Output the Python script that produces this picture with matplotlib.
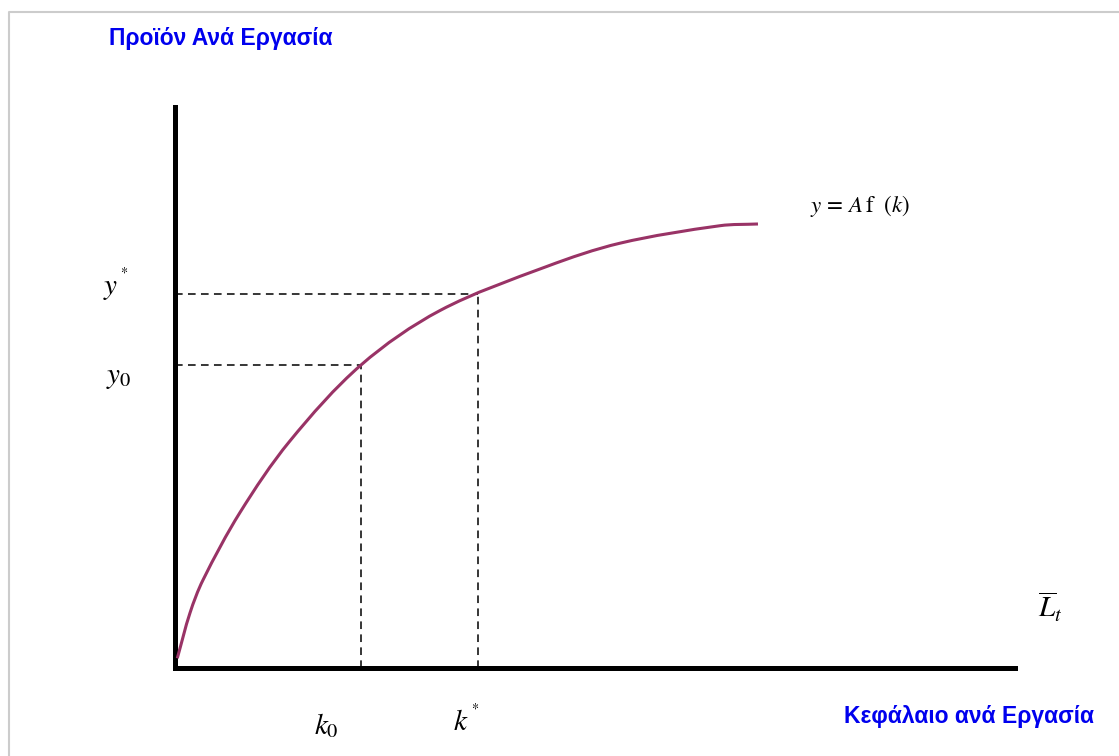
import matplotlib
matplotlib.use("Agg")
import matplotlib.pyplot as plt
import matplotlib.patches as mpatches
from matplotlib.path import Path
from matplotlib.lines import Line2D
import numpy as np

# production function curve (capital per worker, output per worker)
k_vals = [0.033, 0.184, 0.339, 0.779, 1.368, 2.219, 3.159, 4.428, 5.300, 6.490, 6.942]
y_vals = [0.164, 0.972, 1.561, 2.765, 4.032, 5.397, 6.369, 7.154, 7.570, 7.882, 7.913]

# marked points
k0, y0 = 2.22, 5.40
k_star, y_star = 3.61, 6.66

y_axis_title = "Προϊόν Ανά Εργασία"
x_axis_title = "Κεφάλαιο ανά Εργασία"
curve_label = r"$y\,=\,A\,\mathrm{f}\ \ (k)$"

plt.rcParams["mathtext.fontset"] = "stix"

W, H = 1119, 756
fig = plt.figure(figsize=(W / 100, H / 100), dpi=100)

def fx(px):
    return px / W

def fy(py):
    return 1 - py / H

def smooth_path(xs, ys):
    # chord-length Catmull-Rom through the read points, as cubic Bezier segments
    # (x scaled so spacing roughly follows the drawn aspect)
    pts = np.column_stack([np.asarray(xs) * 1.5, ys])
    seg = np.linalg.norm(np.diff(pts, axis=0), axis=1)
    t = np.concatenate([[0], np.cumsum(seg)])
    n = len(pts)
    tang = np.zeros_like(pts)
    for i in range(n):
        a, b = max(i - 1, 0), min(i + 1, n - 1)
        tang[i] = (pts[b] - pts[a]) / (t[b] - t[a])
    verts = [pts[0]]
    codes = [Path.MOVETO]
    for i in range(n - 1):
        h = t[i + 1] - t[i]
        verts += [pts[i] + tang[i] * h / 3, pts[i + 1] - tang[i + 1] * h / 3, pts[i + 1]]
        codes += [Path.CURVE4] * 3
    verts = np.array(verts)
    verts[:, 0] /= 1.5
    return Path(verts, codes)

# light grey frame (top and left edges)
fig.add_artist(Line2D([fx(9), fx(9), 1.0], [0.0, fy(12), fy(12)],
                      color="#cccccc", lw=1.5, transform=fig.transFigure))

ax = fig.add_axes([fx(174.5), fy(667.5), (1015 - 174.5) / W, (667.5 - 107) / H])
ax.set_xlim(0, 10)
ax.set_ylim(0, 10)
ax.set_xticks([])
ax.set_yticks([])
for side in ["top", "right"]:
    ax.spines[side].set_visible(False)
for side in ["left", "bottom"]:
    ax.spines[side].set_linewidth(3.6)
    ax.spines[side].set_color("black")

curve = mpatches.PathPatch(smooth_path(k_vals, y_vals), facecolor="none",
                           edgecolor="#993366", lw=2.2, capstyle="butt", zorder=3)
ax.add_patch(curve)

dash = (0, (5, 3.5))
ax.plot([0, k0], [y0, y0], color="black", lw=1.1, linestyle=dash)
ax.plot([k0, k0], [0, y0], color="black", lw=1.1, linestyle=dash)
ax.plot([0, k_star], [y_star, y_star], color="black", lw=1.1, linestyle=dash)
ax.plot([k_star, k_star], [0, y_star], color="black", lw=1.1, linestyle=dash)

# math labels
fig.text(fx(116), fy(285), r"$y^{^*}$", fontsize=21, ha="center", va="center")
fig.text(fx(119), fy(377), r"$y_0$", fontsize=21, ha="center", va="center")
fig.text(fx(326), fy(726), r"$k_0$", fontsize=21, ha="center", va="center")
fig.text(fx(466), fy(721), r"$k^{^*}$", fontsize=21, ha="center", va="center")
fig.text(fx(1050), fy(607), r"$\overline{L}_{t}$", fontsize=21, ha="center", va="center")
fig.text(fx(860), fy(206), curve_label, fontsize=16.5, ha="center", va="center")

# axis titles
fig.text(fx(221), fy(38), y_axis_title, fontsize=16.5, fontweight="bold",
         color="#0000ee", family="Liberation Sans", ha="center", va="center")
fig.text(fx(969), fy(716), x_axis_title, fontsize=16.5, fontweight="bold",
         color="#0000ee", family="Liberation Sans", ha="center", va="center")

fig.savefig("out.png", dpi=100)
